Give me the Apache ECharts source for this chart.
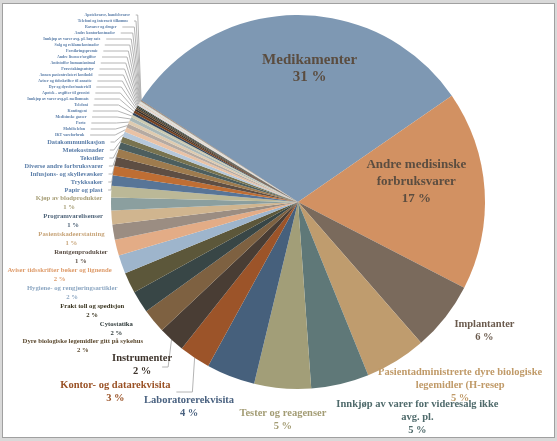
<!DOCTYPE html>
<html>
<head>
<meta charset="utf-8">
<script src="https://cdn.jsdelivr.net/npm/echarts@6/dist/echarts.min.js"></script>
<style>
  html, body { margin: 0; padding: 0; background: #d9d9d9; }
  #frame { position: absolute; left: 2px; top: 3px; width: 551px; height: 433px; background: #fff; border: 1px solid #a0a0a0; }
  #main { position: absolute; left: 0; top: 0; width: 557px; height: 441px; }
</style>
</head>
<body>
<div id="frame"></div>
<div id="main"></div>
<script>
// kategorier (med eksplisitte linjeskift som i originalen)
const categories = [
  'Medikamenter', 'Andre medisinske\nforbruksvarer', 'Implantanter',
  'Pasientadministrerte dyre biologiske\nlegemidler (H-resep',
  'Innkjøp av varer for videresalg ikke\navg. pl.', 'Tester og reagenser',
  'Laboratorerekvisita', 'Kontor- og datarekvisita', 'Instrumenter',
  'Dyre biologiske legemidler gitt på sykehus', 'Cytostatika', 'Frakt toll og spedisjon',
  'Hygiene- og rengjøringsartikler', 'Aviser tidsskrifter bøker og lignende',
  'Røntgenprodukter', 'Pasientskadeerstatning', 'Programvarelisenser',
  'Kjøp av blodprodukter', 'Papir og plast', 'Trykksaker', 'Infusjons- og skyllevæsker',
  'Diverse andre forbruksvarer', 'Tekstiler', 'Møtekostnader', 'Datakommunikasjon',
  'IKT vareforbruk', 'Mobiltelefon', 'Porto', 'Medisinske gasser', 'Kontingent',
  'Telefoni', 'Innkjøp av varer avg.pl. mellomsats', 'Apotek - avgifter til grossist',
  'Dyr og dyrefor/materiell', 'Aviser og tidsskrifter til ansatte',
  'Annen pasientrelatert kosthold', 'Prøvetakingsutstyr', 'Antistoffer human/animal',
  'Andre lisenser/avgifter', 'Forsikringspremie', 'Salg og reklamekostnader',
  'Innkjøp av varer avg. pl. høy sats', 'Andre kontorkostnader', 'Råvarer og droger',
  'Telefoni og internett tilkomne', 'Apotekvarer, handelsvarer'
];

// andel i prosent, lest av bildet
const values = [
  31.2, 17.2, 6.0, 5.3, 5.0, 4.9, 4.2, 2.7, 2.3, 2.1, 1.9, 1.8, 1.6, 1.4, 1.3, 1.2, 1.1, 1.0,
  0.9, 0.8, 0.8, 0.7, 0.6, 0.5, 0.45, 0.4, 0.35, 0.3, 0.3, 0.25, 0.2, 0.2, 0.15, 0.15,
  0.1, 0.1, 0.1, 0.08, 0.08, 0.06, 0.05, 0.05, 0.04, 0.03, 0.03, 0.02
];

// bare de første kategoriene viser prosent i etiketten
const pctLabelCount = 18;

const colors = [
  '#7e98b3', '#d29162', '#7a6a5c', '#bf9c6e', '#5f7878', '#a29e78',
  '#46607c', '#9c5429', '#493d34', '#7e6141', '#384646', '#5c573a',
  '#9eb5cc', '#e3ac86', '#9b8d82', '#d0b58f', '#8b9f9f', '#bbb897',
  '#587597', '#bf6e34', '#5e4e43', '#9e7b4e', '#4c5e5e', '#78734f',
  '#b6c8da', '#e9c2a5', '#b5aaa2', '#decbb0', '#a9b8b8', '#cccab0',
  '#34475d', '#74401f', '#362e27', '#5e4930', '#2a3434', '#45412b',
  '#cbd7e4', '#f0d5c1', '#cdc6c0', '#e8dbc8', '#c5d0d0', '#dddccb',
  '#6c88a6', '#c77f4b', '#6b5a4d', '#ad8b5e'
];

const labelColors = [
  '#5b4d40', '#5b4d40', '#6b5b4e', '#c09a68', '#4f6a6b', '#a39c74', '#4a6280', '#9a5226',
  '#3e342c', '#5c4a30', '#2f3a3a', '#3a3520', '#8ea8c3', '#de9b6a', '#5e5249', '#c8a57a',
  '#50657a', '#a9a07a'
];

const FONT = 'Liberation Serif';
const CX = 298, CY = 202, R = 187, START = 147;
const VIEW_TOP = 12, VIEW_BOTTOM = 36;

function fontSizeFor(i) {
  if (i === 0) return 15;
  if (i === 1) return 13;
  if (i <= 8) return 10.5;
  if (i <= 17) return 6.7;
  if (i <= 24) return 6.4;
  return 4;
}
function lineHeightFor(i) {
  if (i <= 1) return 17;
  if (i <= 8) return 13;
  if (i <= 24) return 9;
  return 4.6;
}
function len2For(i) {
  if (i === 7) return 16;
  if (i === 8) return 6;
  if (i >= 44) return 2;
  if (i >= 42) return 12;
  if (i >= 25) return 25;
  return 4;
}
// etiketter som plasseres ved kanten av sektoren (ikke i venstre stabel)
const rimLabels = [2, 3, 4, 5, 6];
const rimNudge = { 0: [13, -37], 1: [22, -14], 2: [11, -9], 3: [31, -30], 4: [68, -6], 5: [2, 12], 6: [-30, 1] };
// små justeringer av etiketter i stabelen til venstre
const stackNudge = { 8: [16, -2] };

const measure = document.createElement('canvas').getContext('2d');
function textWidth(str, size) {
  measure.font = 'bold ' + size + 'px "' + FONT + '"';
  return Math.ceil(measure.measureText(str).width);
}

const total = values.reduce(function (a, b) { return a + b; }, 0);
const midAngles = [];
let acc = 0;
values.forEach(function (v) {
  midAngles.push((START - (acc + v / 2) / total * 360) * Math.PI / 180);
  acc += v;
});

const data = categories.map(function (name, i) {
  const size = fontSizeFor(i);
  let w = 0;
  name.split('\n').forEach(function (l) { w = Math.max(w, textWidth(l, size)); });
  w = Math.max(w, textWidth('31 %', size)) + 1;
  const inside = i < 2 || rimLabels.indexOf(i) >= 0;
  return {
    name: name,
    value: values[i],
    itemStyle: { color: colors[i % colors.length] },
    label: {
      position: inside ? 'inside' : 'outside',
      width: w,
      formatter: function (p) {
        const parts = p.name.split('\n');
        if (p.dataIndex < pctLabelCount) parts.push(p.percent + ' %');
        return parts.map(function (s) { return '{t|' + s + '}'; }).join('\n');
      },
      rich: {
        t: {
          width: w,
          align: 'center',
          fontSize: size,
          lineHeight: lineHeightFor(i),
          fontFamily: FONT,
          fontWeight: 'bold',
          color: i < pctLabelCount ? labelColors[i] : '#5a7da8'
        }
      }
    },
    labelLine: { show: i === 7 || i === 8 || i >= 18, length: 4, length2: len2For(i) }
  };
});

const chart = echarts.init(document.getElementById('main'));
chart.setOption({
  animation: false,
  series: [{
    type: 'pie',
    top: VIEW_TOP,
    bottom: VIEW_BOTTOM,
    center: [CX, CY - VIEW_TOP],
    radius: R,
    startAngle: START,
    clockwise: true,
    percentPrecision: 0,
    avoidLabelOverlap: true,
    emphasis: { disabled: true },
    label: { fontFamily: FONT, fontWeight: 'bold' },
    labelLine: { lineStyle: { color: '#b4b4b4', width: 1 } },
    labelLayout: function (p) {
      const i = p.dataIndex;
      if (stackNudge[i]) return { dx: stackNudge[i][0], dy: stackNudge[i][1] };
      const n = rimNudge[i];
      if (!n) return;
      if (i < 2) return { dx: n[0], dy: n[1] };
      const a = midAngles[i];
      const c = Math.cos(a), s = Math.sin(a);
      const ext = (p.labelRect.width * Math.abs(c) + p.labelRect.height * Math.abs(s)) / 2;
      const dist = R + 4 + ext;
      return { x: CX + dist * c + n[0], y: CY - dist * s + n[1], align: 'center', verticalAlign: 'middle' };
    },
    data: data
  }]
});
</script>
</body>
</html>
